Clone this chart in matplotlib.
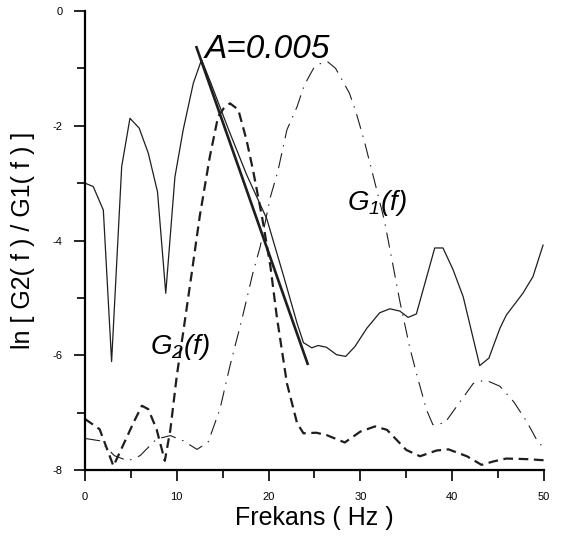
import numpy as np
import matplotlib
matplotlib.use('Agg')
import matplotlib.pyplot as plt
from matplotlib.ticker import MultipleLocator

plt.rcParams['font.family'] = ['Liberation Sans', 'DejaVu Sans']
plt.rcParams['axes.unicode_minus'] = False
plt.rcParams['mathtext.fontset'] = 'custom'
plt.rcParams['mathtext.rm'] = 'Liberation Sans:italic'
plt.rcParams['mathtext.it'] = 'Liberation Sans:italic'
plt.rcParams['lines.scale_dashes'] = False

# ln[G2/G1] spectral ratio
ratio_f = [0, 0.9, 2.0, 2.9, 4.0, 4.9, 5.9, 6.9, 7.9, 8.8, 9.8, 10.7, 11.8, 12.7,
           13.7, 15.6, 17.6, 19.8, 21.6, 23.1, 23.8, 24.7, 25.4, 26.3, 27.4, 28.4,
           29.4, 30.7, 32.1, 33.2, 34.3, 35.2, 36.1, 38.1, 39.0, 40.1, 41.2, 43.0,
           44.0, 45.2, 45.9, 47.7, 48.8, 49.9]
ratio_v = [-3.0, -3.06, -3.47, -6.11, -2.71, -1.87, -2.04, -2.48, -3.15, -4.92, -2.89,
           -2.07, -1.26, -0.85, -1.25, -2.05, -2.85, -3.62, -4.6, -5.44, -5.78, -5.87,
           -5.83, -5.86, -5.99, -6.02, -5.85, -5.53, -5.26, -5.19, -5.23, -5.34, -5.28,
           -4.13, -4.13, -4.51, -4.98, -6.18, -6.05, -5.53, -5.30, -4.92, -4.63, -4.08]

# fitted slope line
fit_f = [12.1, 24.3]
fit_v = [-0.61, -6.17]

# G2(f)
g2_f = [0, 1.6, 3.1, 3.8, 5.3, 6.2, 6.9, 7.8, 8.7, 9.3, 10.0, 10.7, 11.6, 12.5, 13.6,
        14.5, 15.1, 15.8, 16.7, 17.6, 18.3, 19.3, 20.2, 20.9, 22.0, 23.1, 23.8, 25.2,
        26.3, 28.3, 30.0, 31.6, 32.9, 35.0, 36.5, 38.3, 39.6, 41.6, 43.2, 44.5, 45.9,
        48.1, 50]
g2_v = [-7.11, -7.29, -7.93, -7.69, -7.17, -6.88, -6.94, -7.29, -7.84, -7.3, -6.36,
        -5.6, -4.6, -3.58, -2.54, -1.84, -1.70, -1.61, -1.72, -2.25, -2.77, -3.6,
        -4.45, -5.33, -6.49, -7.18, -7.36, -7.35, -7.39, -7.52, -7.33, -7.24, -7.30,
        -7.65, -7.76, -7.66, -7.64, -7.76, -7.91, -7.85, -7.80, -7.81, -7.83]

# G1(f)
g1_f = [0, 1.6, 3.2, 4.7, 6.0, 7.8, 9.3, 10.7, 12.2, 13.4, 14.7, 15.8, 17.1, 18.3,
        19.1, 20.2, 21.0, 22.0, 23.1, 23.9, 24.9, 25.7, 26.4, 27.3, 28.8, 29.5, 30.4,
        31.5, 32.6, 33.3, 34.3, 35.4, 36.2, 37.2, 37.9, 39.2, 40.5, 42.3, 43.6, 45.2,
        46.7, 48.1, 49.4, 50]
g1_v = [-7.45, -7.49, -7.75, -7.84, -7.75, -7.46, -7.40, -7.49, -7.64, -7.52, -6.94,
        -6.18, -5.37, -4.56, -4.1, -3.24, -2.8, -2.07, -1.67, -1.29, -1.0, -0.91,
        -0.88, -1.0, -1.43, -1.75, -2.25, -2.94, -3.64, -4.22, -5.06, -5.88, -6.37,
        -6.95, -7.21, -7.18, -6.89, -6.49, -6.43, -6.54, -6.81, -7.15, -7.53, -7.6]

lc = '#1e1e1e'
tfont = {'fontsize': 8, 'color': 'black'}

fig = plt.figure(figsize=(5.68, 5.36), dpi=100)
ax = fig.add_axes([0.1496, 0.1231, 0.8081, 0.8564])

ax.plot(ratio_f, ratio_v, color=lc, lw=0.9)
ax.plot(fit_f, fit_v, color=lc, lw=1.9, solid_capstyle='butt')
ax.plot(g2_f, g2_v, color=lc, lw=1.6, linestyle=(0, (7, 4)))
ax.plot(g1_f, g1_v, color=lc, lw=0.8, linestyle=(0, (11, 5, 1, 5)))

ax.text(13.07, -0.82, 'A=0.005', fontsize=24, style='italic', ha='left', va='baseline')
ax.text(28.5, -3.47, 'G$_1$(f)', fontsize=20, style='italic', ha='left', va='baseline')
ax.text(7.08, -5.98, 'G$_2$(f)', fontsize=20, style='italic', ha='left', va='baseline')

ax.set_xlim(0, 50)
ax.set_ylim(-8, 0)
ax.spines['top'].set_visible(False)
ax.spines['right'].set_visible(False)
ax.spines['left'].set_linewidth(1.6)
ax.spines['bottom'].set_linewidth(1.6)

ax.xaxis.set_major_locator(MultipleLocator(10))
ax.xaxis.set_minor_locator(MultipleLocator(5))
ax.yaxis.set_major_locator(MultipleLocator(2))
ax.yaxis.set_minor_locator(MultipleLocator(1))
ax.tick_params(which='major', direction='out', length=8, width=1.2, labelsize=8, pad=8)
ax.tick_params(which='minor', direction='out', length=6, width=1.2)

ax.set_xlabel('Frekans ( Hz )', fontsize=18)
ax.set_ylabel('ln [ G2( f ) / G1( f ) ]', fontsize=18)
ax.xaxis.label.set_verticalalignment('center')
ax.yaxis.label.set_verticalalignment('center')
ax.xaxis.set_label_coords(0.5, -0.1046)
ax.yaxis.set_label_coords(-0.135, 0.5)

fig.savefig('out.png', dpi=100)
